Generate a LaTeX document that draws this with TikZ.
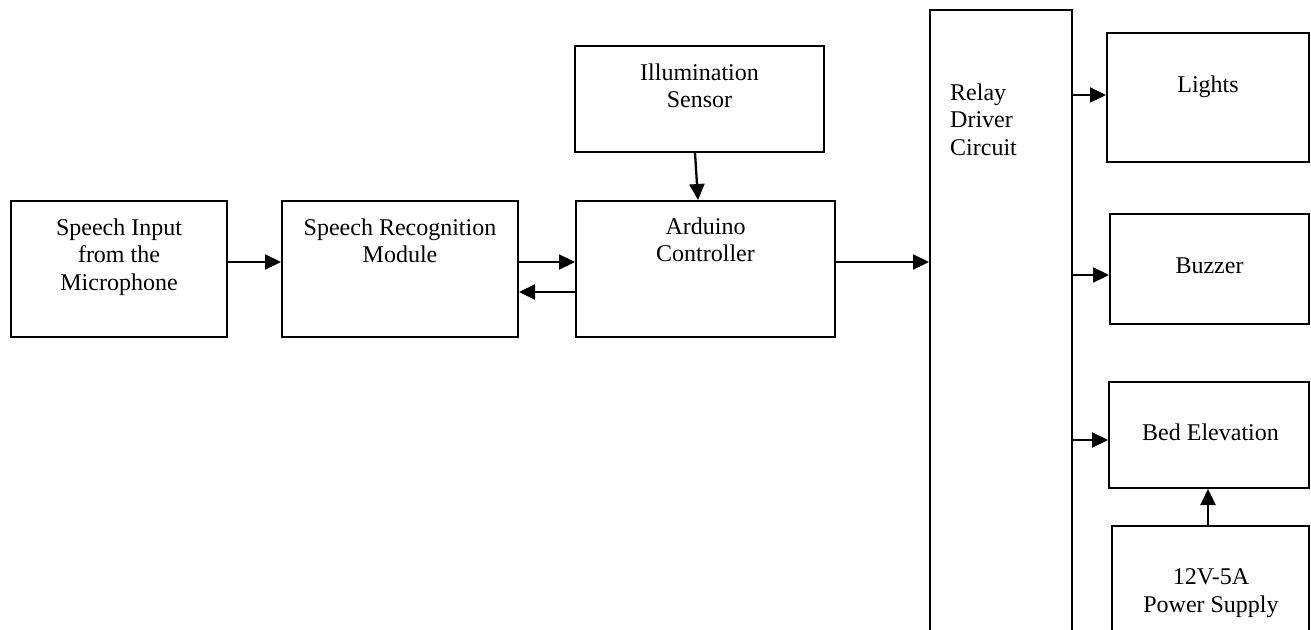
\documentclass[tikz,border=0pt]{standalone}
\usepackage{fontspec}
\setmainfont{Liberation Serif}
\usetikzlibrary{arrows.meta}
\begin{document}
\begin{tikzpicture}[x=1pt,y=-1pt,
  box/.style={draw=black, line width=2pt, rectangle, inner sep=0pt, fill=white},
  txt/.style={inner sep=0pt, align=center, font=\fontsize{24}{27.5}\selectfont},
  txtl/.style={inner sep=0pt, align=left, font=\fontsize{24}{27.5}\selectfont},
  arr/.style={line width=2.3pt, -{Triangle[length=16pt,width=15pt]}}]
\useasboundingbox (0,0) rectangle (1311,629);
\clip (0,0) rectangle (1311,629);
\fill[white] (0,0) rectangle (1311,629);
% boxes
\node[box, minimum width=216pt, minimum height=136pt] (inp) at (119,269) {};
\node[box, minimum width=236pt, minimum height=136pt] (srm) at (400,269) {};
\node[box, minimum width=249pt, minimum height=106pt] (ill) at (699.5,99) {};
\node[box, minimum width=259pt, minimum height=136pt] (ard) at (705.5,269) {};
\node[box, minimum width=142pt, minimum height=650pt] (rel) at (1001,335) {};
\node[box, minimum width=202pt, minimum height=129pt] (lig) at (1208,97.5) {};
\node[box, minimum width=199pt, minimum height=110pt] (buz) at (1209.5,269) {};
\node[box, minimum width=200pt, minimum height=106pt] (bed) at (1209,435) {};
\node[box, minimum width=197pt, minimum height=174pt] (psu) at (1210.5,613) {};
% texts
\node[txt, anchor=north] (inpt) at (119,218.6) {Speech Input\\from the\\Microphone};
\node[txt, anchor=north] (srmt) at (400,218.6) {Speech Recognition\\Module};
\node[txt, anchor=north] (illt) at (699.5,63.6) {Illumination\\Sensor};
\node[txt, anchor=north] (ardt) at (705.5,217.6) {Arduino\\Controller};
\node[txtl, anchor=north west] (relt) at (950,83.6) {Relay\\Driver\\Circuit};
\node[txt, anchor=north] (ligt) at (1208,75.6) {Lights};
\node[txt, anchor=north] (buzt) at (1209.5,257.1) {Buzzer};
\node[txt, anchor=north] (bedt) at (1210.5,423.6) {Bed Elevation};
\node[txt, anchor=north] (psut) at (1211,568.8) {12V-5A\\Power Supply};
% connectors
\draw[arr] (inp.east |- 0,262) -- (srm.west |- 0,262);
\draw[arr] (srm.east |- 0,262) -- (ard.west |- 0,262);
\draw[arr] (ard.west |- 0,292) -- (srm.east |- 0,292);
\draw[arr] ([xshift=-4.5pt]ill.south) -- ([xshift=-7.5pt]ard.north);
\draw[arr] (ard.east |- 0,262) -- (rel.west |- 0,262);
\draw[arr] (rel.east |- 0,95) -- (lig.west |- 0,95);
\draw[arr] (rel.east |- 0,275) -- (buz.west |- 0,275);
\draw[arr] (rel.east |- 0,440) -- (bed.west |- 0,440);
\draw[arr] (1208,0 |- psu.north) -- (1208,0 |- bed.south);
\end{tikzpicture}
\end{document}
